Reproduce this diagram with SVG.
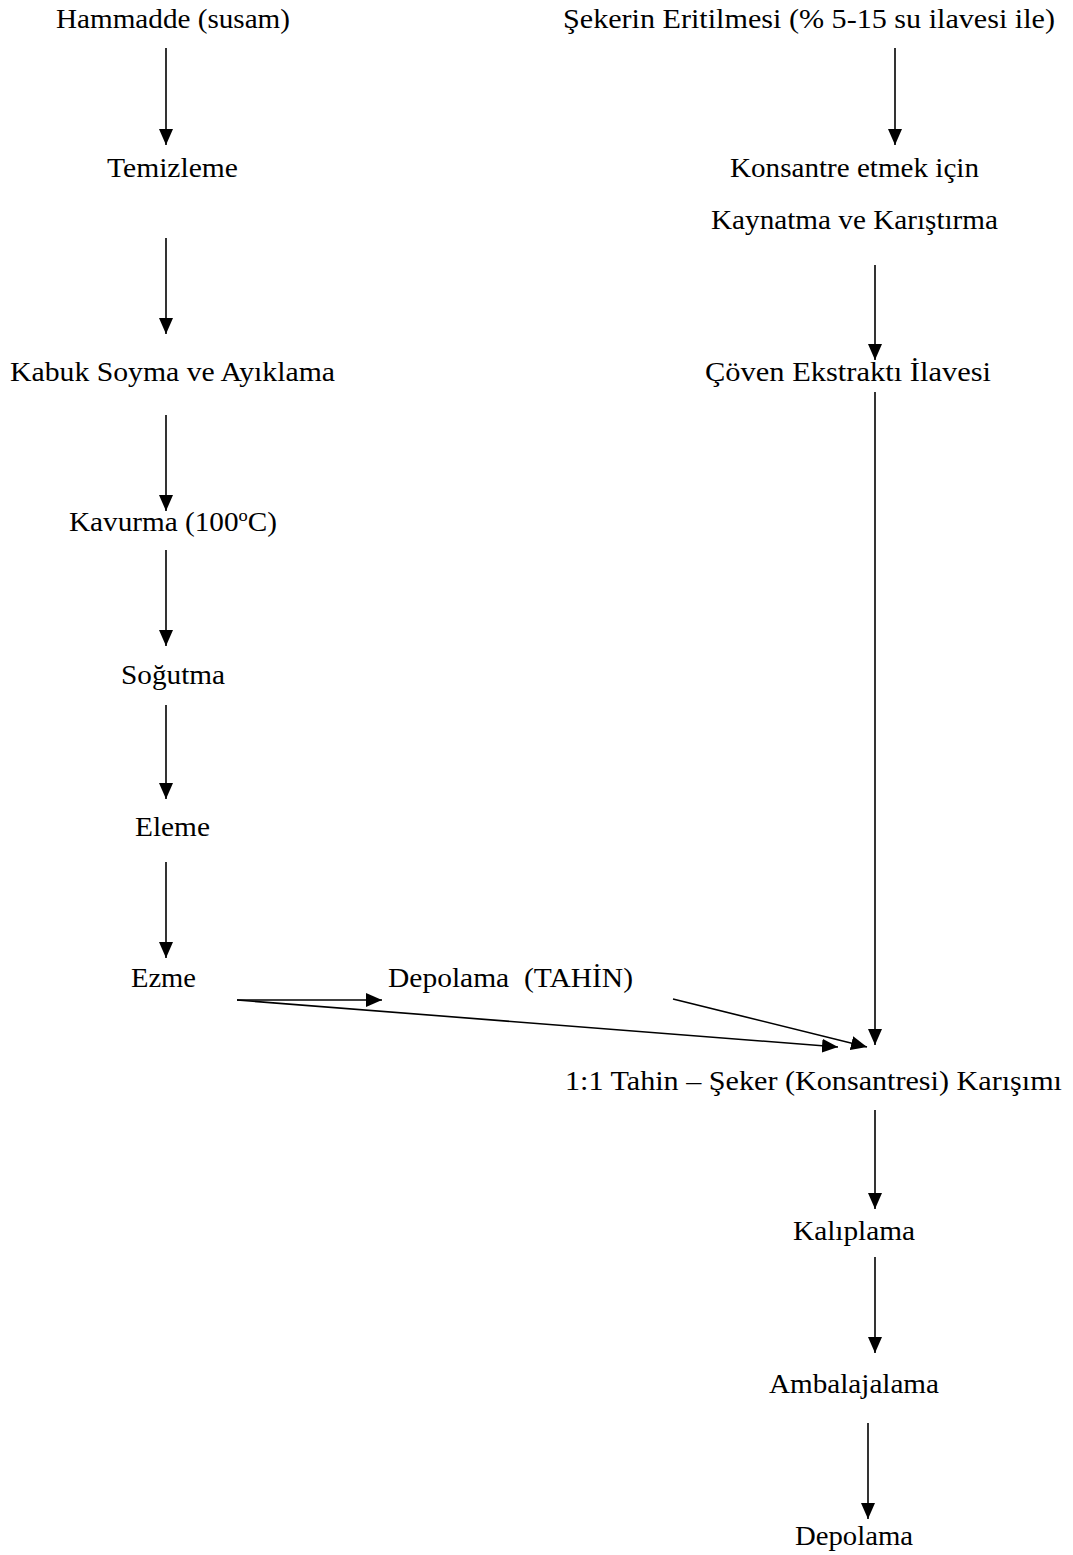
<svg xmlns="http://www.w3.org/2000/svg" width="1073" height="1555" viewBox="0 0 1073 1555">
<style>
text{font-family:"Liberation Serif","Times New Roman",serif;font-size:27px;fill:#000;text-anchor:middle}
.c line{stroke:#000;stroke-width:1.6;fill:none}
</style>
<defs>
<marker id="ah" markerUnits="userSpaceOnUse" markerWidth="16" markerHeight="14" refX="16" refY="7" orient="auto">
<path d="M0,0 L16,7 L0,14 Z" fill="#000"/>
</marker>
</defs>
<rect width="1073" height="1555" fill="#fff"/>
<g id="n1"><text x="173" y="28" textLength="234" lengthAdjust="spacingAndGlyphs">Hammadde (susam)</text></g>
<g id="n2"><text x="172.5" y="177" textLength="131" lengthAdjust="spacingAndGlyphs">Temizleme</text></g>
<g id="n3"><text x="172.5" y="381" textLength="325" lengthAdjust="spacingAndGlyphs">Kabuk Soyma ve Ayıklama</text></g>
<g id="n4"><text x="173" y="531" textLength="208" lengthAdjust="spacingAndGlyphs">Kavurma (100<tspan dy="-10" font-size="17">o</tspan><tspan dy="10">C)</tspan></text></g>
<g id="n5"><text x="173" y="684" textLength="104" lengthAdjust="spacingAndGlyphs">Soğutma</text></g>
<g id="n6"><text x="172.5" y="836" textLength="75" lengthAdjust="spacingAndGlyphs">Eleme</text></g>
<g id="n7"><text x="163.5" y="987" textLength="65" lengthAdjust="spacingAndGlyphs">Ezme</text></g>
<g id="n8"><text x="510.5" y="987" xml:space="preserve" textLength="245" lengthAdjust="spacingAndGlyphs">Depolama  (TAHİN)</text></g>
<g id="n9"><text x="809" y="28" textLength="492" lengthAdjust="spacingAndGlyphs">Şekerin Eritilmesi (% 5-15 su ilavesi ile)</text></g>
<g id="n10"><text x="854.5" y="177" textLength="249" lengthAdjust="spacingAndGlyphs">Konsantre etmek için</text><text x="854.5" y="229" textLength="287" lengthAdjust="spacingAndGlyphs">Kaynatma ve Karıştırma</text></g>
<g id="n11"><text x="848" y="381" textLength="286" lengthAdjust="spacingAndGlyphs">Çöven Ekstraktı İlavesi</text></g>
<g id="n12"><text x="813.5" y="1090" textLength="497" lengthAdjust="spacingAndGlyphs">1:1 Tahin – Şeker (Konsantresi) Karışımı</text></g>
<g id="n13"><text x="854" y="1240" textLength="122" lengthAdjust="spacingAndGlyphs">Kalıplama</text></g>
<g id="n14"><text x="854" y="1393" textLength="170" lengthAdjust="spacingAndGlyphs">Ambalajalama</text></g>
<g id="n15"><text x="854" y="1545" textLength="118" lengthAdjust="spacingAndGlyphs">Depolama</text></g>
<g id="connectors" class="c">
<line x1="166" y1="48" x2="166" y2="145" marker-end="url(#ah)"/>
<line x1="166" y1="238" x2="166" y2="334" marker-end="url(#ah)"/>
<line x1="166" y1="415" x2="166" y2="511" marker-end="url(#ah)"/>
<line x1="166" y1="550" x2="166" y2="646" marker-end="url(#ah)"/>
<line x1="166" y1="705" x2="166" y2="799" marker-end="url(#ah)"/>
<line x1="166" y1="862" x2="166" y2="958" marker-end="url(#ah)"/>
<line x1="237" y1="1000" x2="382" y2="1000" marker-end="url(#ah)"/>
<line x1="237" y1="1000" x2="838" y2="1047" marker-end="url(#ah)"/>
<line x1="673" y1="999" x2="867" y2="1047" marker-end="url(#ah)"/>
<line x1="895" y1="48" x2="895" y2="145" marker-end="url(#ah)"/>
<line x1="875" y1="265" x2="875" y2="360" marker-end="url(#ah)"/>
<line x1="875" y1="392" x2="875" y2="1045" marker-end="url(#ah)"/>
<line x1="875" y1="1110" x2="875" y2="1209" marker-end="url(#ah)"/>
<line x1="875" y1="1257" x2="875" y2="1353" marker-end="url(#ah)"/>
<line x1="868" y1="1423" x2="868" y2="1519" marker-end="url(#ah)"/>
</g>
</svg>
